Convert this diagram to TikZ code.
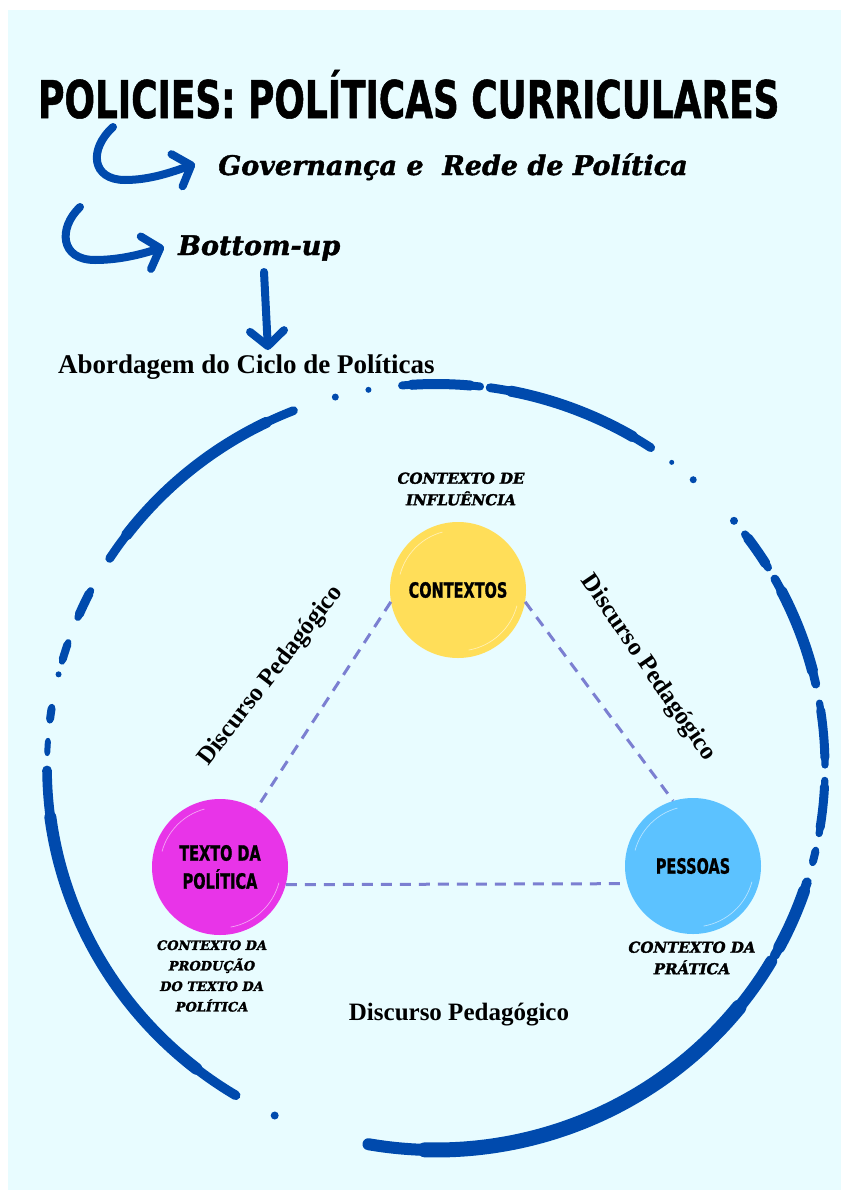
\documentclass[tikz,border=0pt]{standalone}
\usepackage{fontspec}
\usepackage{tikz}
\usetikzlibrary{arrows.meta}
\newfontfamily\brushfont{DejaVu Sans}[FakeStretch=0.69, FakeBold=1]
\newfontfamily\slabfont{DejaVu Serif}[FakeBold=1.5]
\newfontfamily\capsfont{DejaVu Serif}[FakeBold=2]
\newfontfamily\displayfont{Liberation Serif}
\definecolor{bgcyan}{HTML}{E8FCFF}
\definecolor{brushblue}{HTML}{004AAD}
\definecolor{ctxyellow}{HTML}{FFDE59}
\definecolor{txtmagenta}{HTML}{E834E8}
\definecolor{pesblue}{HTML}{5CC2FF}
\definecolor{linkviolet}{HTML}{7B7FD1}

\begin{document}
\begin{tikzpicture}[x=1pt, y=1pt,
    bubble/.style={circle, minimum size=136pt, inner sep=0pt, align=center,
      font=\brushfont\bfseries\fontsize{21}{28}\selectfont,
      path picture={
        \draw[white, opacity=0.55, line width=0.7pt]
          (path picture bounding box.center) ++(105:60pt) arc[start angle=105, end angle=165, radius=60pt]
          (path picture bounding box.center) ++(-80:61pt) arc[start angle=-80, end angle=-15, radius=61pt];}},
    capsnote/.style={inner sep=0pt, align=center,
      font=\capsfont\bfseries\itshape\fontsize{15}{21.5}\selectfont},
    heading/.style={inner sep=0pt, anchor=base west,
      font=\slabfont\bfseries\itshape\fontsize{27}{30}\selectfont},
    discurso/.style={inner sep=0pt, font=\displayfont\bfseries\fontsize{25}{28}\selectfont},
    link/.style={linkviolet, line width=3pt, dash pattern=on 11pt off 8pt},
    brusharrow/.style={brushblue, line width=8pt, line cap=round,
      -{Straight Barb[length=15pt, width=34pt, round]}}]
  \useasboundingbox (0,0) rectangle (847,-1194);
  % Background
  \fill[white] (0,0) rectangle (847,-1194);
  \fill[bgcyan] (8,-10) rectangle (841,-1190);
  % Headings
  \node[inner sep=0pt, anchor=base west, font=\brushfont\bfseries\fontsize{52}{52}\selectfont]
    (title) at (38,-118) {POLICIES: POLÍTICAS CURRICULARES};
  \node[heading] (gov) at (218,-175) {Governança e\ \ Rede de Política};
  \node[heading] (bup) at (178,-255) {Bottom-up};
  \node[discurso, anchor=base west, font=\displayfont\bfseries\fontsize{27}{30}\selectfont]
    (ciclo) at (58,-373) {Abordagem do Ciclo de Políticas};
  % Arrows
  \coordinate (a1s) at (113,-127);
  \coordinate (a1e) at (195,-164);
  \coordinate (a2s) at (80,-207);
  \coordinate (a2e) at (164,-247);
  \coordinate (a3s) at (264,-272);
  \coordinate (a3e) at (268,-350);
  \draw[brusharrow] (a1s) .. controls (88,-150) and (92,-180) .. (125,-180)
    .. controls (150,-180) and (172,-172) .. (a1e);
  \draw[brusharrow] (a2s) .. controls (58,-228) and (60,-260) .. (95,-260)
    .. controls (122,-260) and (145,-253) .. (a2e);
  \draw[brusharrow] (a3s) -- (a3e);
  % Broken circle
  \coordinate (cc) at (436,-767);
  \foreach \a/\b/\w in {56.5/82/11, 83.5/95/10, 111.5/147/11, 152.6/157/9,
      161/164/8, 171/173/8, 176/178/6, 180.5/239/12, 260/329.5/15,
      330.5/342.5/12, 345.5/347.5/8, 350/358/9, 360.3/369.6/9,
      372.5/389.4/11, 391.4/397.4/10}{
    \draw[brushblue, line width=0.8*\w pt, line cap=round]
      (cc) ++(\a:389pt and 383pt) arc[start angle=\a, end angle=\b, x radius=389pt, y radius=383pt];
    \draw[brushblue, line width=\w pt, line cap=round]
      (cc) ++({\a+0.12*(\b-\a)}:389pt and 383pt)
      arc[start angle={\a+0.12*(\b-\a)}, end angle={\b-0.12*(\b-\a)}, x radius=389pt, y radius=383pt];
  }
  \foreach \a/\r in {100/3, 105/3.5, 166/3, 245.5/4, 400/4, 408.6/3.5, 412.7/2.5}
    \fill[brushblue] (cc) ++(\a:389pt and 383pt) circle[radius=\r pt];
  % Contexts
  \node[bubble, fill=ctxyellow] (ctx) at (458,-590) {CONTEXTOS};
  \node[bubble, fill=txtmagenta] (txt) at (220,-867) {TEXTO DA\\POLÍTICA};
  \node[bubble, fill=pesblue] (pes) at (693,-866) {PESSOAS};
  \node[capsnote] (infl) at (461,-489) {CONTEXTO DE\\INFLUÊNCIA};
  \node[capsnote, font=\capsfont\bfseries\itshape\fontsize{13}{20.5}\selectfont]
    (prod) at (212,-976) {CONTEXTO DA\\PRODUÇÃO\\DO TEXTO DA\\POLÍTICA};
  \node[capsnote] (prat) at (692,-958) {CONTEXTO DA\\PRÁTICA};
  % Dashed links
  \draw[link] (ctx.190) -- (txt.58);
  \draw[link] (ctx.-10) -- (pes.107);
  \draw[link] (txt.-15) -- (pes.195);
  \node[discurso, rotate=52.4] (dleft) at (271,-676) {Discurso Pedagógico};
  \node[discurso, rotate=-55.6] (dright) at (648,-668) {Discurso Pedagógico};
  \node[discurso, anchor=base] (dbottom) at (459,-1020) {Discurso Pedagógico};
\end{tikzpicture}
\end{document}
